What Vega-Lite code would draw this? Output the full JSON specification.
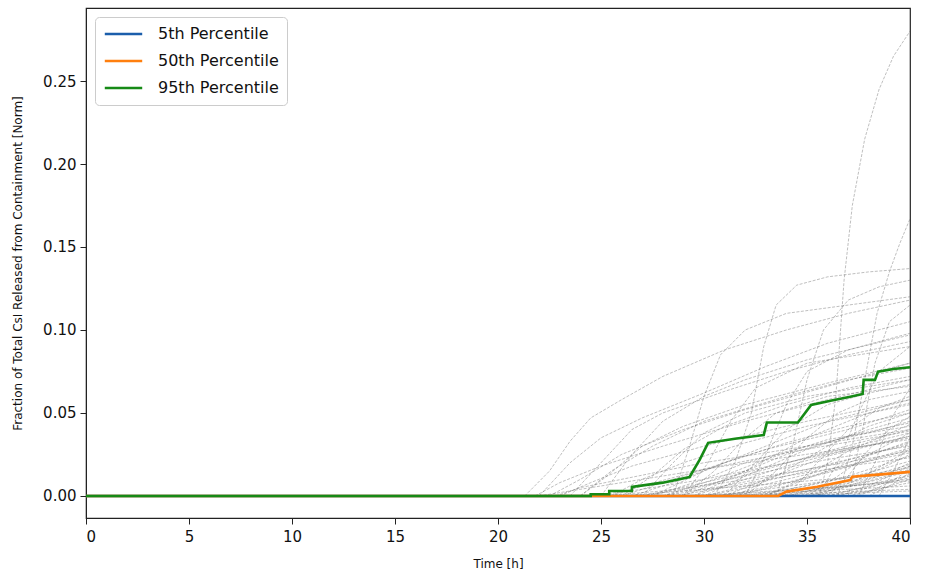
{
"$schema": "https://vega.github.io/schema/vega-lite/v6.json",
"width": 824, "height": 510,
"autosize": {"type": "none"},
"padding": {"left": 86, "top": 8, "right": 15, "bottom": 61},
"background": "white",
"config": {"view": {"stroke": "#222", "strokeWidth": 1.2}, "font": "DejaVu Sans"},
"datasets": {
"runs": [
{"r":1,"t":35.6,"v":0},{"r":1,"t":36.0,"v":0.02},{"r":1,"t":36.4,"v":0.06},{"r":1,"t":36.8,"v":0.13},{"r":1,"t":37.2,"v":0.175},{"r":1,"t":37.8,"v":0.215},{"r":1,"t":38.5,"v":0.245},{"r":1,"t":39.2,"v":0.265},{"r":1,"t":40,"v":0.28},
{"r":2,"t":36.5,"v":0},{"r":2,"t":37.2,"v":0.03},{"r":2,"t":37.8,"v":0.07},{"r":2,"t":38.4,"v":0.11},{"r":2,"t":39.0,"v":0.135},{"r":2,"t":39.5,"v":0.152},{"r":2,"t":40,"v":0.167},
{"r":3,"t":21.3,"v":0},{"r":3,"t":22.5,"v":0.015},{"r":3,"t":23.5,"v":0.033},{"r":3,"t":24.5,"v":0.047},{"r":3,"t":26,"v":0.058},{"r":3,"t":28,"v":0.072},{"r":3,"t":31,"v":0.088},{"r":3,"t":34,"v":0.1},{"r":3,"t":37,"v":0.11},{"r":3,"t":40,"v":0.118},
{"r":4,"t":30.5,"v":0},{"r":4,"t":31.5,"v":0.02},{"r":4,"t":32.3,"v":0.05},{"r":4,"t":32.9,"v":0.09},{"r":4,"t":33.5,"v":0.115},{"r":4,"t":34.5,"v":0.127},{"r":4,"t":36,"v":0.132},{"r":4,"t":38,"v":0.135},{"r":4,"t":40,"v":0.137},
{"r":5,"t":22,"v":0},{"r":5,"t":23.5,"v":0.02},{"r":5,"t":25,"v":0.035},{"r":5,"t":27,"v":0.047},{"r":5,"t":30,"v":0.062},{"r":5,"t":33,"v":0.078},{"r":5,"t":36,"v":0.092},{"r":5,"t":40,"v":0.105},
{"r":6,"t":23.5,"v":0},{"r":6,"t":25,"v":0.02},{"r":6,"t":26.5,"v":0.04},{"r":6,"t":28,"v":0.05},{"r":6,"t":31,"v":0.063},{"r":6,"t":34,"v":0.075},{"r":6,"t":37,"v":0.085},{"r":6,"t":40,"v":0.093},
{"r":7,"t":25,"v":0},{"r":7,"t":26.5,"v":0.025},{"r":7,"t":28,"v":0.045},{"r":7,"t":30,"v":0.06},{"r":7,"t":32,"v":0.07},{"r":7,"t":35,"v":0.082},{"r":7,"t":40,"v":0.097},
{"r":8,"t":28.5,"v":0},{"r":8,"t":29.3,"v":0.03},{"r":8,"t":30,"v":0.06},{"r":8,"t":30.8,"v":0.085},{"r":8,"t":32,"v":0.1},{"r":8,"t":34,"v":0.11},{"r":8,"t":37,"v":0.115},{"r":8,"t":40,"v":0.12},
{"r":9,"t":33.5,"v":0},{"r":9,"t":34.3,"v":0.03},{"r":9,"t":35,"v":0.07},{"r":9,"t":35.8,"v":0.1},{"r":9,"t":37,"v":0.118},{"r":9,"t":38.5,"v":0.126},{"r":9,"t":40,"v":0.13},
{"r":10,"t":37,"v":0},{"r":10,"t":37.7,"v":0.04},{"r":10,"t":38.3,"v":0.08},{"r":10,"t":39,"v":0.105},{"r":10,"t":40,"v":0.115},
{"r":11,"t":22.5,"v":0},{"r":11,"t":24,"v":0.01},{"r":11,"t":26,"v":0.025},{"r":11,"t":29,"v":0.04},{"r":11,"t":32,"v":0.052},{"r":11,"t":36,"v":0.066},{"r":11,"t":40,"v":0.08},
{"r":12,"t":24,"v":0},{"r":12,"t":25.5,"v":0.015},{"r":12,"t":27.5,"v":0.03},{"r":12,"t":30,"v":0.045},{"r":12,"t":34,"v":0.06},{"r":12,"t":37,"v":0.07},{"r":12,"t":40,"v":0.077},
{"r":13,"t":26,"v":0},{"r":13,"t":27.5,"v":0.012},{"r":13,"t":29,"v":0.028},{"r":13,"t":31,"v":0.042},{"r":13,"t":34,"v":0.055},{"r":13,"t":37,"v":0.065},{"r":13,"t":40,"v":0.072},
{"r":14,"t":27,"v":0},{"r":14,"t":28.5,"v":0.02},{"r":14,"t":30,"v":0.038},{"r":14,"t":32,"v":0.05},{"r":14,"t":35,"v":0.06},{"r":14,"t":40,"v":0.07},
{"r":15,"t":29,"v":0},{"r":15,"t":30.5,"v":0.015},{"r":15,"t":32,"v":0.035},{"r":15,"t":33.5,"v":0.05},{"r":15,"t":36,"v":0.06},{"r":15,"t":40,"v":0.066},
{"r":16,"t":31,"v":0},{"r":16,"t":32.5,"v":0.02},{"r":16,"t":34,"v":0.04},{"r":16,"t":36,"v":0.055},{"r":16,"t":38,"v":0.062},{"r":16,"t":40,"v":0.067},
{"r":17,"t":32,"v":0},{"r":17,"t":33.5,"v":0.015},{"r":17,"t":35,"v":0.035},{"r":17,"t":36.5,"v":0.05},{"r":17,"t":38,"v":0.058},{"r":17,"t":40,"v":0.063},
{"r":18,"t":34,"v":0},{"r":18,"t":35.5,"v":0.02},{"r":18,"t":37,"v":0.04},{"r":18,"t":38.5,"v":0.053},{"r":18,"t":40,"v":0.06},
{"r":19,"t":25.5,"v":0},{"r":19,"t":27,"v":0.01},{"r":19,"t":29,"v":0.02},{"r":19,"t":32,"v":0.032},{"r":19,"t":35,"v":0.042},{"r":19,"t":40,"v":0.055},
{"r":20,"t":26.5,"v":0},{"r":20,"t":28.5,"v":0.008},{"r":20,"t":31,"v":0.02},{"r":20,"t":34,"v":0.032},{"r":20,"t":37,"v":0.042},{"r":20,"t":40,"v":0.05},
{"r":21,"t":27.5,"v":0},{"r":21,"t":30,"v":0.01},{"r":21,"t":32,"v":0.02},{"r":21,"t":35,"v":0.03},{"r":21,"t":38,"v":0.038},{"r":21,"t":40,"v":0.045},
{"r":22,"t":28,"v":0},{"r":22,"t":30,"v":0.006},{"r":22,"t":33,"v":0.016},{"r":22,"t":36,"v":0.027},{"r":22,"t":40,"v":0.04},
{"r":23,"t":29.5,"v":0},{"r":23,"t":31.5,"v":0.008},{"r":23,"t":34,"v":0.018},{"r":23,"t":37,"v":0.028},{"r":23,"t":40,"v":0.036},
{"r":24,"t":30,"v":0},{"r":24,"t":32,"v":0.006},{"r":24,"t":35,"v":0.015},{"r":24,"t":38,"v":0.025},{"r":24,"t":40,"v":0.032},
{"r":25,"t":31.5,"v":0},{"r":25,"t":33.5,"v":0.006},{"r":25,"t":36,"v":0.014},{"r":25,"t":38,"v":0.021},{"r":25,"t":40,"v":0.028},
{"r":26,"t":32.5,"v":0},{"r":26,"t":34.5,"v":0.005},{"r":26,"t":37,"v":0.012},{"r":26,"t":40,"v":0.024},
{"r":27,"t":33,"v":0},{"r":27,"t":35,"v":0.004},{"r":27,"t":37.5,"v":0.01},{"r":27,"t":40,"v":0.019},
{"r":28,"t":34.5,"v":0},{"r":28,"t":36.5,"v":0.004},{"r":28,"t":38.5,"v":0.01},{"r":28,"t":40,"v":0.015},
{"r":29,"t":35,"v":0},{"r":29,"t":37,"v":0.003},{"r":29,"t":40,"v":0.011},
{"r":30,"t":36,"v":0},{"r":30,"t":38,"v":0.003},{"r":30,"t":40,"v":0.008},
{"r":31,"t":24.5,"v":0},{"r":31,"t":27,"v":0.004},{"r":31,"t":30,"v":0.01},{"r":31,"t":34,"v":0.02},{"r":31,"t":37,"v":0.028},{"r":31,"t":40,"v":0.035},
{"r":32,"t":25,"v":0},{"r":32,"t":28,"v":0.003},{"r":32,"t":31,"v":0.008},{"r":32,"t":35,"v":0.016},{"r":32,"t":40,"v":0.027},
{"r":33,"t":23,"v":0},{"r":33,"t":24.5,"v":0.008},{"r":33,"t":26.5,"v":0.018},{"r":33,"t":30,"v":0.03},{"r":33,"t":35,"v":0.045},{"r":33,"t":40,"v":0.058},
{"r":34,"t":22.8,"v":0},{"r":34,"t":24,"v":0.005},{"r":34,"t":26,"v":0.01},{"r":34,"t":30,"v":0.02},{"r":34,"t":35,"v":0.03},{"r":34,"t":40,"v":0.04},
{"r":35,"t":27,"v":0},{"r":35,"t":29,"v":0.004},{"r":35,"t":32,"v":0.012},{"r":35,"t":36,"v":0.022},{"r":35,"t":40,"v":0.03},
{"r":36,"t":28.5,"v":0},{"r":36,"t":31,"v":0.005},{"r":36,"t":34,"v":0.012},{"r":36,"t":37,"v":0.018},{"r":36,"t":40,"v":0.023},
{"r":37,"t":30.5,"v":0},{"r":37,"t":33,"v":0.004},{"r":37,"t":36,"v":0.009},{"r":37,"t":40,"v":0.017},
{"r":38,"t":26,"v":0},{"r":38,"t":28,"v":0.002},{"r":38,"t":32,"v":0.006},{"r":38,"t":36,"v":0.01},{"r":38,"t":40,"v":0.014},
{"r":39,"t":29,"v":0},{"r":39,"t":32,"v":0.002},{"r":39,"t":36,"v":0.005},{"r":39,"t":40,"v":0.009},
{"r":40,"t":31,"v":0},{"r":40,"t":34,"v":0.002},{"r":40,"t":37,"v":0.004},{"r":40,"t":40,"v":0.006},
{"r":41,"t":33,"v":0},{"r":41,"t":36,"v":0.002},{"r":41,"t":40,"v":0.004},
{"r":42,"t":34,"v":0},{"r":42,"t":37,"v":0.0015},{"r":42,"t":40,"v":0.003},
{"r":43,"t":24,"v":0},{"r":43,"t":25.3,"v":0.012},{"r":43,"t":27,"v":0.03},{"r":43,"t":29,"v":0.042},{"r":43,"t":32,"v":0.055},{"r":43,"t":36,"v":0.068},{"r":43,"t":40,"v":0.08},
{"r":44,"t":35.5,"v":0},{"r":44,"t":36.5,"v":0.02},{"r":44,"t":37.5,"v":0.05},{"r":44,"t":38.5,"v":0.075},{"r":44,"t":40,"v":0.09},
{"r":45,"t":32,"v":0},{"r":45,"t":33,"v":0.025},{"r":45,"t":34,"v":0.055},{"r":45,"t":35,"v":0.075},{"r":45,"t":37,"v":0.088},{"r":45,"t":40,"v":0.098},
{"r":46,"t":21.8,"v":0},{"r":46,"t":23,"v":0.008},{"r":46,"t":25,"v":0.018},{"r":46,"t":28,"v":0.03},{"r":46,"t":32,"v":0.045},{"r":46,"t":36,"v":0.058},{"r":46,"t":40,"v":0.07},
{"r":47,"t":29,"v":0},{"r":47,"t":30.2,"v":0.02},{"r":47,"t":31.3,"v":0.045},{"r":47,"t":32.5,"v":0.065},{"r":47,"t":35,"v":0.08},{"r":47,"t":40,"v":0.09},
{"r":48,"t":37.5,"v":0},{"r":48,"t":38.3,"v":0.02},{"r":48,"t":39,"v":0.045},{"r":48,"t":40,"v":0.065},
{"r":49,"t":38.5,"v":0},{"r":49,"t":39.2,"v":0.015},{"r":49,"t":40,"v":0.035},
{"r":50,"t":36,"v":0},{"r":50,"t":37,"v":0.012},{"r":50,"t":38,"v":0.028},{"r":50,"t":39,"v":0.04},{"r":50,"t":40,"v":0.048},
{"r":51,"t":27,"v":0},{"r":51,"t":30,"v":0.008},{"r":51,"t":34,"v":0.02},{"r":51,"t":40,"v":0.038},
{"r":52,"t":28,"v":0},{"r":52,"t":31,"v":0.006},{"r":52,"t":35,"v":0.016},{"r":52,"t":40,"v":0.031},
{"r":53,"t":30,"v":0},{"r":53,"t":33,"v":0.007},{"r":53,"t":36,"v":0.016},{"r":53,"t":40,"v":0.026},
{"r":54,"t":31,"v":0},{"r":54,"t":34,"v":0.008},{"r":54,"t":37,"v":0.018},{"r":54,"t":40,"v":0.029},
{"r":55,"t":32,"v":0},{"r":55,"t":35,"v":0.006},{"r":55,"t":38,"v":0.014},{"r":55,"t":40,"v":0.021},
{"r":56,"t":33.5,"v":0},{"r":56,"t":36,"v":0.005},{"r":56,"t":38.5,"v":0.012},{"r":56,"t":40,"v":0.018},
{"r":57,"t":34,"v":0},{"r":57,"t":36.5,"v":0.007},{"r":57,"t":38.5,"v":0.016},{"r":57,"t":40,"v":0.025},
{"r":58,"t":35,"v":0},{"r":58,"t":37,"v":0.006},{"r":58,"t":39,"v":0.014},{"r":58,"t":40,"v":0.02},
{"r":59,"t":36.5,"v":0},{"r":59,"t":38,"v":0.005},{"r":59,"t":40,"v":0.013},
{"r":60,"t":37,"v":0},{"r":60,"t":38.5,"v":0.004},{"r":60,"t":40,"v":0.01},
{"r":61,"t":29,"v":0},{"r":61,"t":31,"v":0.01},{"r":61,"t":34,"v":0.025},{"r":61,"t":37,"v":0.036},{"r":61,"t":40,"v":0.044},
{"r":62,"t":30,"v":0},{"r":62,"t":32,"v":0.012},{"r":62,"t":35,"v":0.028},{"r":62,"t":38,"v":0.04},{"r":62,"t":40,"v":0.047},
{"r":63,"t":31.5,"v":0},{"r":63,"t":33.5,"v":0.012},{"r":63,"t":36,"v":0.03},{"r":63,"t":38,"v":0.042},{"r":63,"t":40,"v":0.05},
{"r":64,"t":33,"v":0},{"r":64,"t":35,"v":0.012},{"r":64,"t":37,"v":0.027},{"r":64,"t":40,"v":0.043},
{"r":65,"t":26,"v":0},{"r":65,"t":29,"v":0.012},{"r":65,"t":33,"v":0.028},{"r":65,"t":37,"v":0.04},{"r":65,"t":40,"v":0.052},
{"r":66,"t":27.5,"v":0},{"r":66,"t":30,"v":0.015},{"r":66,"t":33,"v":0.03},{"r":66,"t":36,"v":0.045},{"r":66,"t":40,"v":0.058},
{"r":67,"t":29.5,"v":0},{"r":67,"t":32,"v":0.015},{"r":67,"t":35,"v":0.035},{"r":67,"t":38,"v":0.05},{"r":67,"t":40,"v":0.056},
{"r":68,"t":35,"v":0},{"r":68,"t":36.5,"v":0.012},{"r":68,"t":38,"v":0.025},{"r":68,"t":40,"v":0.038},
{"r":69,"t":32.5,"v":0},{"r":69,"t":35,"v":0.003},{"r":69,"t":38,"v":0.007},{"r":69,"t":40,"v":0.012},
{"r":70,"t":30,"v":0},{"r":70,"t":34,"v":0.003},{"r":70,"t":37,"v":0.006},{"r":70,"t":40,"v":0.01},
{"r":71,"t":34,"v":0},{"r":71,"t":36,"v":0.004},{"r":71,"t":38,"v":0.009},{"r":71,"t":40,"v":0.016},
{"r":72,"t":36,"v":0},{"r":72,"t":38,"v":0.006},{"r":72,"t":40,"v":0.018},
{"r":73,"t":28,"v":0},{"r":73,"t":30.5,"v":0.01},{"r":73,"t":33,"v":0.022},{"r":73,"t":36,"v":0.034},{"r":73,"t":40,"v":0.042},
{"r":74,"t":31,"v":0},{"r":74,"t":33,"v":0.01},{"r":74,"t":36,"v":0.024},{"r":74,"t":40,"v":0.036},
{"r":75,"t":33,"v":0},{"r":75,"t":34.5,"v":0.008},{"r":75,"t":37,"v":0.02},{"r":75,"t":40,"v":0.033},
{"r":76,"t":37.5,"v":0},{"r":76,"t":39,"v":0.008},{"r":76,"t":40,"v":0.016},
{"r":77,"t":25.5,"v":0},{"r":77,"t":27,"v":0.006},{"r":77,"t":30,"v":0.016},{"r":77,"t":34,"v":0.026},{"r":77,"t":40,"v":0.039},
{"r":78,"t":35.5,"v":0},{"r":78,"t":37.5,"v":0.01},{"r":78,"t":40,"v":0.028},
{"r":79,"t":22,"v":0},{"r":79,"t":24,"v":0.004},{"r":79,"t":27,"v":0.01},{"r":79,"t":31,"v":0.018},{"r":79,"t":40,"v":0.034},
{"r":80,"t":38,"v":0},{"r":80,"t":39,"v":0.006},{"r":80,"t":40,"v":0.014}
],
"pct": [
{"s":"5th Percentile","t":0,"v":0},{"s":"5th Percentile","t":40,"v":0},
{"s":"50th Percentile","t":0,"v":0},{"s":"50th Percentile","t":33.6,"v":0},{"s":"50th Percentile","t":34.0,"v":0.0026},{"s":"50th Percentile","t":35.5,"v":0.0055},{"s":"50th Percentile","t":37.1,"v":0.0096},{"s":"50th Percentile","t":37.2,"v":0.0116},{"s":"50th Percentile","t":38.6,"v":0.013},{"s":"50th Percentile","t":40,"v":0.0145},
{"s":"95th Percentile","t":0,"v":0},{"s":"95th Percentile","t":24.5,"v":0},{"s":"95th Percentile","t":24.5,"v":0.001},{"s":"95th Percentile","t":25.4,"v":0.001},{"s":"95th Percentile","t":25.4,"v":0.003},{"s":"95th Percentile","t":26.5,"v":0.003},{"s":"95th Percentile","t":26.5,"v":0.0054},{"s":"95th Percentile","t":28.0,"v":0.008},{"s":"95th Percentile","t":29.3,"v":0.0114},{"s":"95th Percentile","t":29.8,"v":0.022},{"s":"95th Percentile","t":30.2,"v":0.032},{"s":"95th Percentile","t":31.5,"v":0.0345},{"s":"95th Percentile","t":32.9,"v":0.0367},{"s":"95th Percentile","t":33.05,"v":0.0442},{"s":"95th Percentile","t":34.56,"v":0.0442},{"s":"95th Percentile","t":35.2,"v":0.0548},{"s":"95th Percentile","t":36.2,"v":0.0575},{"s":"95th Percentile","t":37.1,"v":0.0598},{"s":"95th Percentile","t":37.7,"v":0.0614},{"s":"95th Percentile","t":37.75,"v":0.0699},{"s":"95th Percentile","t":38.3,"v":0.0699},{"s":"95th Percentile","t":38.45,"v":0.0749},{"s":"95th Percentile","t":39.2,"v":0.0765},{"s":"95th Percentile","t":40,"v":0.0775}
]
},
"layer": [
{
"data": {"name": "runs"},
"mark": {"type": "line", "color": "#666", "strokeWidth": 0.7, "opacity": 0.6, "strokeDash": [3, 1.5], "clip": true},
"encoding": {
"x": {"field": "t", "type": "quantitative", "scale": {"domain": [0, 40], "nice": false, "zero": false},
"axis": {"title": "Time [h]", "values": [0,5,10,15,20,25,30,35,40], "labelFontSize": 15, "titleFontSize": 12, "titleFontWeight": "normal", "titlePadding": 14, "grid": false, "domainColor": "#222", "tickColor": "#222", "tickSize": 6, "labelColor": "#111", "titleColor": "#111", "labelPadding": 5}},
"y": {"field": "v", "type": "quantitative", "scale": {"domain": [-0.0133, 0.294], "nice": false, "zero": false},
"axis": {"title": "Fraction of Total CsI Released from Containment [Norm]", "values": [0,0.05,0.1,0.15,0.2,0.25], "format": ".2f", "labelFontSize": 15, "titleFontSize": 12, "titleFontWeight": "normal", "titlePadding": 18, "grid": false, "domainColor": "#222", "tickColor": "#222", "tickSize": 6, "labelColor": "#111", "titleColor": "#111", "labelPadding": 4}},
"detail": {"field": "r", "type": "nominal"},
"order": {"field": "t", "type": "quantitative"}
}
},
{
"data": {"name": "pct"},
"mark": {"type": "line", "strokeWidth": 2.6, "clip": true},
"encoding": {
"x": {"field": "t", "type": "quantitative"},
"y": {"field": "v", "type": "quantitative"},
"color": {"field": "s", "type": "nominal",
"scale": {"domain": ["5th Percentile", "50th Percentile", "95th Percentile"], "range": ["#1b5eab", "#ff7f0e", "#168a16"]},
"legend": {"title": null, "orient": "top-left", "offset": 9, "symbolType": "stroke", "symbolSize": 1400, "symbolStrokeWidth": 2.6, "labelFontSize": 16, "labelColor": "#111", "clipHeight": 18, "rowPadding": 9, "padding": 8, "strokeColor": "#cccccc", "fillColor": "white", "cornerRadius": 4, "labelOffset": 14}},
"order": {"field": "t", "type": "quantitative"}
}
}
]
}
